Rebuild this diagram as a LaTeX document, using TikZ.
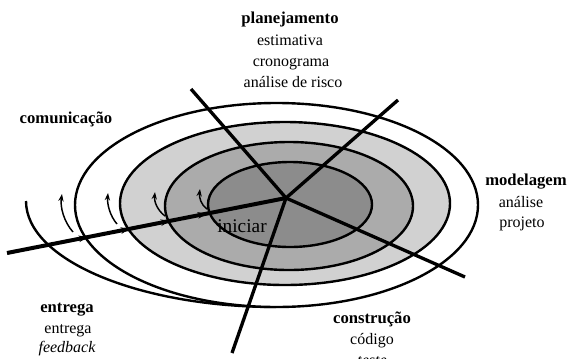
\documentclass[tikz,border=0pt]{standalone}
\usepackage{fontspec}
\setmainfont{Liberation Serif}
\usetikzlibrary{arrows.meta}
\definecolor{ringdark}{gray}{0.55}
\definecolor{ringmid}{gray}{0.67}
\definecolor{ringlight}{gray}{0.82}

\begin{document}
\begin{tikzpicture}[x=0.75pt,y=0.75pt,yscale=-1,xscale=1,
    ring/.style={line width=1.8pt},
    ray/.style={line width=2.5pt},
    turn/.style={line width=1.1pt,-{Stealth[length=5.5pt,width=4pt]}},
    txt/.style={anchor=base,inner sep=0.75pt,align=center,font=\fontsize{12}{14}\selectfont},
    hd/.style={anchor=base,inner sep=0.75pt,align=center,font=\fontsize{12.5}{15}\selectfont\bfseries}]
                \useasboundingbox (0,0) rectangle (571,358);
                \coordinate (ctr) at (286,198);
                \coordinate (start) at (7,253);
                \coordinate (planend) at (191,89);
                \coordinate (modend) at (398,100);
                \coordinate (consend) at (465,277);
                \coordinate (entend) at (232,353);
                % spiral rings
                \draw [ring] (26,201) arc [start angle=180, end angle=90, x radius=250, y radius=106];
                \draw [ring,fill=white] (276.5,205) ellipse [x radius=201.5, y radius=102];
                \draw [ring,fill=ringlight] (285,203.5) ellipse [x radius=165, y radius=81.5];
                \draw [ring,fill=ringmid] (289,206) ellipse [x radius=124, y radius=64];
                \draw [ring,fill=ringdark] (290,204.5) ellipse [x radius=82, y radius=42.5];
                % small turn arrows
                \draw [turn] (73,232) .. controls (64,222) and (60,207) .. (62,194);
                \draw [turn] (117,224) .. controls (110,216) and (107,204) .. (108,193);
                \draw [turn] (165,216) .. controls (157,210) and (154,201) .. (155,192);
                \draw [turn] (207,209) .. controls (201,205) and (199,197) .. (200,189);
                % radial lines
                \draw [ray] (ctr) -- (planend);
                \draw [ray] (ctr) -- (modend);
                \draw [ray] (ctr) -- (consend);
                \draw [ray] (ctr) -- (entend);
                \draw [line width=3pt] (start) -- (ctr);
                \foreach \x in {88,130,170,207}
                    \draw [line width=0.8pt,-{Stealth[length=7pt,width=5pt]}] ({\x-9},{253-(\x-16)*0.197}) -- (\x,{253-(\x-7)*0.197});
                % labels
                \draw (242,232) node (ini) [anchor=base,inner sep=0.75pt,font=\fontsize{14.5}{17}\selectfont] {iniciar};
                \draw (290,23) node (plan) [hd] {planejamento};
                \draw (290,45) node (plan1) [txt] {estimativa};
                \draw (291,66) node (plan2) [txt] {cronograma};
                \draw (293,87) node (plan3) [txt] {análise de risco};
                \draw (66,123) node (com) [hd] {comunicação};
                \draw (526,185) node (mod) [hd] {modelagem};
                \draw (521,207) node (mod1) [txt] {análise};
                \draw (522,227) node (mod2) [txt] {projeto};
                \draw (372,323) node (cons) [hd] {construção};
                \draw (372,344) node (cons1) [txt] {código};
                \draw (372,365) node (cons2) [txt] {\itshape teste};
                \draw (67,312) node (ent) [hd] {entrega};
                \draw (68,333) node (ent1) [txt] {entrega};
                \draw (67,352) node (ent2) [txt] {\itshape feedback};
            \end{tikzpicture}
\end{document}
